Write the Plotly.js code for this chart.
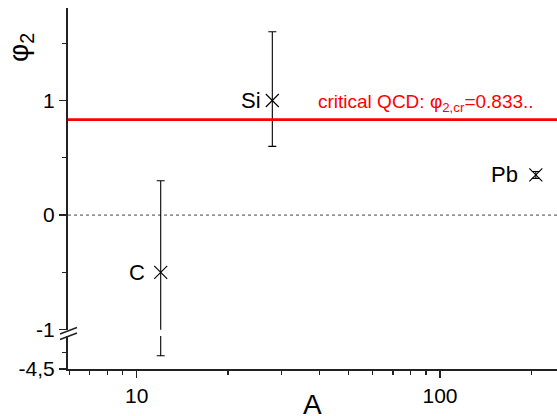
<!DOCTYPE html>
<html><head><meta charset="utf-8">
<script src="https://cdn.plot.ly/plotly-3.0.1.min.js"></script>
<style>html,body{margin:0;padding:0;background:#fff}#chart{width:557px;height:416px}</style>
</head><body><div id="chart"></div>
<script>
// ---- data ----
const nuclei = ["C", "Si", "Pb"];
const massNumber = [12, 28, 207];
const phi2 = [-0.5, 1.0, 0.35];
const errPlus = [0.8, 0.6, 0.03];
const errMinus = [3.6, 0.4, 0.03];
const criticalPhi2 = 0.833;
const criticalLabel = "critical QCD: φ<sub>2,cr</sub>=0.833..";
const xTitle = "A";
const yTitle = "φ<sub>2</sub>";
const breakValue = -1;
const yTickVals = [-1, 0, 1];
const yTickText = ["-1", "0", "1"];
const yMinorVals = [-0.5, 0.5, 1.5];
const y2TickVals = [-4.5];
const y2TickText = ["-4,5"];
const y2MinorVals = [-4];
const xTickVals = [10, 100];
const xTickText = ["10", "100"];
const xMinorVals = [6, 7, 8, 9, 20, 30, 40, 50, 60, 70, 80, 90, 200];

// ---- styles ----
const labelShift = [-14, -9, -16];
const FONT = "Liberation Sans, Arial, Helvetica, sans-serif";
const W = 557, H = 416, ML = 68, MR = 0, MT = 8, MB = 47;
const plotH = H - MT - MB, plotW = W - ML - MR;
const py2paper = py => (H - MB - py) / plotH;
const px2paper = px => (px - ML) / plotW;

const upperTop = py2paper(8), upperBot = py2paper(329.7);
const lowerTop = py2paper(336);

// lower segment (below the axis break)
const lowIdx = phi2.map((v, i) => i).filter(i => phi2[i] - errMinus[i] < breakValue);

const traces = [
  {
    type: "scatter", mode: "markers",
    x: massNumber, y: phi2,
    marker: {symbol: "x-thin", size: 13, color: "#000", line: {width: 1.1, color: "#000"}},
    error_y: {type: "data", symmetric: false, array: errPlus, arrayminus: errMinus,
              color: "#000", thickness: 1.1, width: 4},
    xaxis: "x", yaxis: "y", cliponaxis: true, showlegend: false, hoverinfo: "x+y"
  },
  {
    type: "scatter", mode: "markers",
    x: lowIdx.map(i => massNumber[i]),
    y: lowIdx.map(i => phi2[i] - errMinus[i]),
    marker: {size: 1, color: "rgba(0,0,0,0)"},
    error_y: {type: "data", symmetric: false,
              array: lowIdx.map(i => errMinus[i]),
              arrayminus: lowIdx.map(() => 0),
              color: "#000", thickness: 1.1, width: 4},
    xaxis: "x", yaxis: "y2", showlegend: false, hoverinfo: "skip"
  }
];

const axisCommon = {
  showline: true, linecolor: "#222", linewidth: 2,
  ticks: "outside", ticklen: 7, tickwidth: 1.5, tickcolor: "#222",
  showgrid: false, zeroline: false,
  tickfont: {family: FONT, size: 21, color: "#000"}
};

const pointLabels = nuclei.map((n, i) => ({
  text: n, xref: "x", yref: "y", x: Math.log10(massNumber[i]), y: phi2[i],
  xanchor: "right", yanchor: "middle", xshift: labelShift[i], showarrow: false,
  font: {family: FONT, size: 22, color: "#000"}
}));

const layout = {
  width: W, height: H,
  margin: {l: ML, r: MR, t: MT, b: MB, pad: 0},
  paper_bgcolor: "#fff", plot_bgcolor: "#fff",
  showlegend: false,
  font: {family: FONT, color: "#000"},
  xaxis: Object.assign({}, axisCommon, {
    type: "log", anchor: "y2",
    range: [0.7735, 0.7735 + plotW / 303.3],
    tickmode: "array", tickvals: xTickVals, ticktext: xTickText,
    minor: {tickmode: "array", tickvals: xMinorVals, ticks: "outside", ticklen: 4, tickwidth: 1.3, tickcolor: "#222"}
  }),
  yaxis: Object.assign({}, axisCommon, {
    domain: [upperBot, upperTop],
    range: [-1.0, 1.807],
    tickmode: "array", tickvals: yTickVals, ticktext: yTickText,
    minor: {tickmode: "array", tickvals: yMinorVals, ticks: "outside", ticklen: 4, tickwidth: 1.3, tickcolor: "#222"}
  }),
  yaxis2: Object.assign({}, axisCommon, {
    domain: [0, lowerTop],
    range: [-4.5, -3.5],
    tickmode: "array", tickvals: y2TickVals, ticktext: y2TickText,
    minor: {tickmode: "array", tickvals: y2MinorVals, ticks: "outside", ticklen: 4, tickwidth: 1.3, tickcolor: "#222"}
  }),
  shapes: [
    {type: "line", xref: "paper", yref: "y", x0: 0, x1: 1, y0: 0, y1: 0,
     line: {color: "#444", width: 1, dash: "dot"}, layer: "below"},
    {type: "line", xref: "paper", yref: "y", x0: 0, x1: 1, y0: criticalPhi2, y1: criticalPhi2,
     line: {color: "#ff0000", width: 2.8}},
    // axis-break marks
    {type: "line", xref: "paper", yref: "paper",
     x0: px2paper(60), x1: px2paper(77), y0: py2paper(334), y1: py2paper(327.5),
     line: {color: "#222", width: 1.5}},
    {type: "line", xref: "paper", yref: "paper",
     x0: px2paper(60), x1: px2paper(77), y0: py2paper(339.5), y1: py2paper(333),
     line: {color: "#222", width: 1.5}}
  ],
  annotations: pointLabels.concat([
    {text: criticalLabel, xref: "paper", yref: "y", x: px2paper(316), y: criticalPhi2,
     xanchor: "left", yanchor: "bottom", yshift: 3, showarrow: false,
     font: {family: FONT, size: 19, color: "#ff0000"}},
    {text: yTitle, xref: "paper", yref: "paper", x: px2paper(20), y: py2paper(48),
     xanchor: "center", yanchor: "middle", textangle: -90, showarrow: false,
     font: {family: FONT, size: 28, color: "#000"}},
    {text: xTitle, xref: "paper", yref: "paper", x: 0.5, y: py2paper(404),
     xanchor: "center", yanchor: "middle", showarrow: false,
     font: {family: FONT, size: 28, color: "#000"}}
  ])
};

Plotly.newPlot("chart", traces, layout, {staticPlot: true, displayModeBar: false});
</script>
</body></html>
